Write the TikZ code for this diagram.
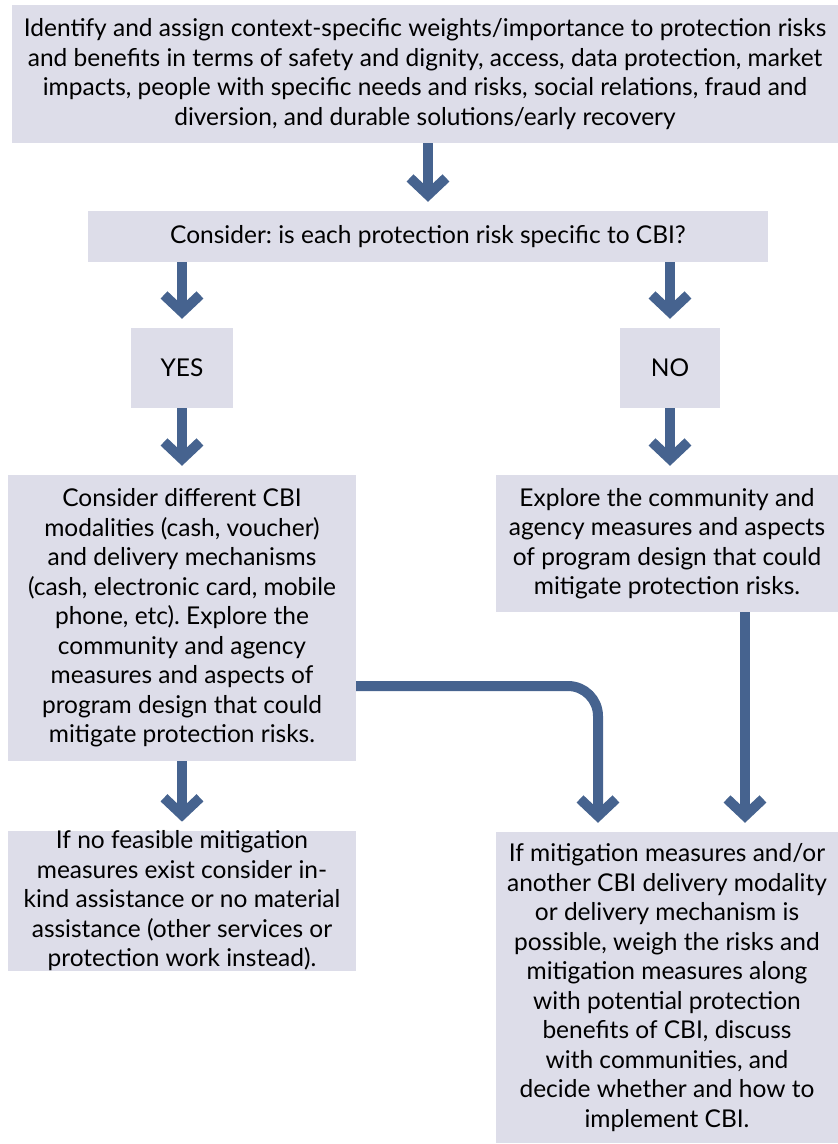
\documentclass[tikz,border=0pt]{standalone}
\usepackage{fontspec}
\setmainfont{Lato}
\usepackage{tikz}
\usetikzlibrary{calc,positioning,arrows.meta}
\definecolor{boxfill}{HTML}{DDDDE9}
\definecolor{arrowblue}{HTML}{46638F}
\frenchspacing
\tikzset{
  stepbox/.style={
      fill=boxfill,
      align=center,
      inner sep=0pt,
      font=\fontsize{24.5}{29.5}\selectfont,
  },
  flow/.style={
      draw=arrowblue,
      line width=10pt,
      -{Straight Barb[sharp,length=17pt,width=36pt]},
      shorten >=9pt,
  },
}
\begin{document}
\begin{tikzpicture}[x=1pt,y=-1pt]
  \useasboundingbox (0,0) rectangle (838,1144);
  \node[stepbox,minimum width=826pt,minimum height=138pt](risks) at (425,74)
  {Identify and assign context-specific weights/importance to protection risks\\
   and benefits in terms of safety and dignity, access, data protection, market\\
   impacts, people with specific needs and risks, social relations, fraud and\\
   diversion, and durable solutions/early recovery};
  \node[stepbox,minimum width=680pt,minimum height=51pt](ask) at (428,236.5)
  {Consider: is each protection risk specific to CBI?};
  \node[stepbox,minimum width=102pt,minimum height=80pt](yes) at (182,368) {YES};
  \node[stepbox,minimum width=100pt,minimum height=80pt](no) at (670,368) {NO};
  \node[stepbox,minimum width=348pt,minimum height=286pt](cbi) at (182,618)
  {Consider different CBI\\
   modalities (cash, voucher)\\
   and delivery mechanisms\\
   (cash, electronic card, mobile\\
   phone, etc). Explore the\\
   community and agency\\
   measures and aspects of\\
   program design that could\\
   mitigate protection risks.};
  \node[stepbox,minimum width=342pt,minimum height=137pt](explore) at (667,543.5)
  {Explore the community and\\
   agency measures and aspects\\
   of program design that could\\
   mitigate protection risks.};
  \node[stepbox,minimum width=348pt,minimum height=138pt](inkind) at (182,901)
  {If no feasible mitigation\\
   measures exist consider in-\\
   kind assistance or no material\\
   assistance (other services or\\
   protection work instead).};
  \node[stepbox,minimum width=342pt,minimum height=311pt](decide) at (667,987.5)
  {If mitigation measures and/or\\
   another CBI delivery modality\\
   or delivery mechanism is\\
   possible, weigh the risks and\\
   mitigation measures along\\
   with potential protection\\
   benefits of CBI, discuss\\
   with communities, and\\
   decide whether and how to\\
   implement CBI.};
  \draw[flow] (risks.south -| ask.north) -- (ask.north);
  \draw[flow] (ask.south -| yes.north) -- (yes.north);
  \draw[flow] (ask.south -| no.north) -- (no.north);
  \draw[flow] (yes.south) -- (cbi.north);
  \draw[flow] (no.south) -- (no.south |- explore.north);
  \draw[flow] (cbi.south) -- (inkind.north);
  \draw[flow] ([xshift=78pt]explore.south) -- ([xshift=78pt]explore.south |- decide.north);
  \draw[flow,rounded corners=30pt] ([yshift=-68pt]cbi.east) -| ([xshift=-69pt]decide.north);
\end{tikzpicture}
\end{document}
